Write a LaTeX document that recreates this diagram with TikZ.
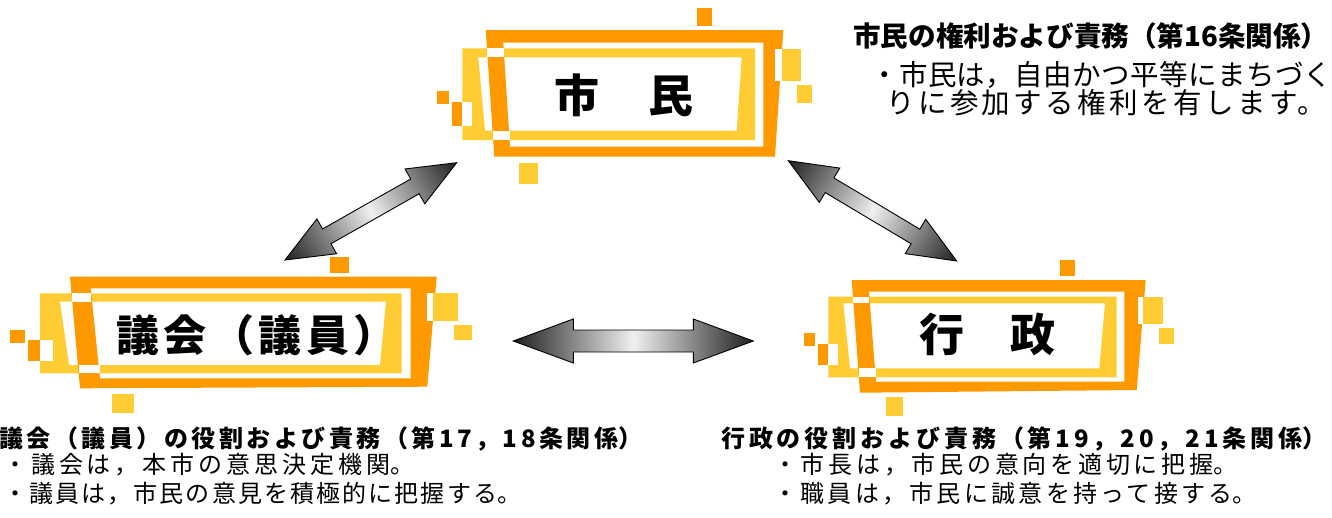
\documentclass[tikz,border=0pt]{standalone}
\usepackage{fontspec}
\newfontfamily\jp{Noto Sans CJK JP}
\usetikzlibrary{calc}

\definecolor{frameorange}{RGB}{255,153,0}
\definecolor{frameyellow}{RGB}{255,204,51}

\tikzset{
  fillorange/.style={fill=frameorange},
  fillyellow/.style={fill=frameyellow},
  fillwhite/.style={fill=white},
  ring/.style={even odd rule},
  boxlabel/.style={inner sep=0pt, font=\jp\bfseries\fontsize{45}{50}\selectfont},
  titletext/.style={anchor=base west, inner sep=0pt, font=\jp\bfseries\fontsize{24}{28}\selectfont},
  bodytext/.style={anchor=base west, inner sep=0pt, font=\jp\fontsize{24}{28}\selectfont},
  blockarrow/.style={draw=black, line width=0.9pt, line join=miter,
    left color=black!88, right color=black!88, middle color=white!94!black},
}

% letter-spaced line of text
\newcommand{\spaced}[2]{{\addfontfeature{LetterSpace=#1}#2}}

% double block arrow between two named coordinates
% #3 head length, #4 head half width, #5 shaft half width
\makeatletter
\newcommand{\blockarrow}[5]{%
  \pgfmathanglebetweenpoints{\pgfpointanchor{#1}{center}}{\pgfpointanchor{#2}{center}}%
  \let\ba@ang\pgfmathresult
  \pgfpointdiff{\pgfpointanchor{#1}{center}}{\pgfpointanchor{#2}{center}}%
  \edef\ba@dx{\the\pgf@x}\edef\ba@dy{\the\pgf@y}%
  \pgfmathsetmacro\ba@h{veclen(\ba@dx,\ba@dy)/2}%
  \begin{scope}[transform canvas={shift={($(#1)!0.5!(#2)$)},rotate=\ba@ang}]
    \path[blockarrow] (-\ba@h,0) -- (-\ba@h+#3,-#4) -- (-\ba@h+#3,-#5)
      -- (\ba@h-#3,-#5) -- (\ba@h-#3,-#4) -- (\ba@h,0) -- (\ba@h-#3,#4)
      -- (\ba@h-#3,#5) -- (-\ba@h+#3,#5) -- (-\ba@h+#3,#4) -- cycle;
  \end{scope}}
\makeatother

\begin{document}
\begin{tikzpicture}[x=1pt,y=-1pt]
\useasboundingbox (0,0) rectangle (1332,517);
\fill[white] (0,0) rectangle (1332,517);

% ---------- frame: citizens ----------
\fill[fillyellow,ring] (462.3,48.3) rectangle (755,140)
  (478.3,57.3) -- (741.7,57.3) -- (736.7,130.7) -- (485,130.7) -- cycle;
\fill[fillorange,ring] (485.7,30) -- (783.3,30) -- (775,156.7) -- (494.3,156.7) -- cycle
  (503.3,42.7) -- (763.3,42.7) -- (763.3,146.7) -- (510,146.7) -- cycle;
\fill[fillwhite] (487,48.3) rectangle (503.5,57.3);
\fill[fillwhite] (492.5,130.7) rectangle (510.2,140);
\fill[fillwhite] (775,49) rectangle (782,81);
\fill[fillyellow] (782,49) rectangle (801,81);
\fill[fillorange] (696.7,8.3) rectangle (711.7,25.7);
\fill[fillorange] (437.3,90.7) rectangle (449,104.3);
\fill[fillorange] (452.3,102.3) rectangle (462.3,125.7);
\fill[fillwhite] (462.3,102.3) rectangle (471.7,125.7);
\fill[fillyellow] (796.7,85) rectangle (811.7,102.7);
\fill[fillyellow] (519,162.7) rectangle (537.7,184.3);

% ---------- frame: assembly ----------
\fill[fillyellow,ring] (40,293.3) rectangle (401.7,373.3)
  (60,301.7) -- (386,301.7) -- (380,365) -- (69,365) -- cycle;
\fill[fillorange,ring] (70,276.7) -- (436.7,276.7) -- (427.3,386.7) -- (80,388.3) -- cycle
  (90.7,288.3) -- (410.7,288.3) -- (410.7,378.3) -- (100,378.3) -- cycle;
\fill[fillwhite] (71.5,293.3) rectangle (91,301.7);
\fill[fillwhite] (78.8,365) rectangle (100.3,373.3);
\fill[fillwhite] (426.7,293.3) rectangle (433.3,321);
\fill[fillyellow] (433.3,293.3) rectangle (458.3,321);
\fill[fillorange] (330,256.7) rectangle (349,272.7);
\fill[fillorange] (10,330) rectangle (25,342.7);
\fill[fillorange] (27.7,340) rectangle (40,361);
\fill[fillwhite] (40,340) rectangle (52.7,361);
\fill[fillyellow] (454,325) rectangle (471.7,340);
\fill[fillyellow] (112.3,394) rectangle (134,412.7);

% ---------- frame: administration ----------
\fill[fillyellow,ring] (828.3,296.7) rectangle (1116.7,377.3)
  (843.3,303.3) -- (1105,303.3) -- (1099.3,368.3) -- (850,368.3) -- cycle;
\fill[fillorange,ring] (851.7,280) -- (1145.7,280) -- (1136.7,390) -- (860,392.7) -- cycle
  (869,291.7) -- (1124.3,291.7) -- (1124.3,381.7) -- (876,381.7) -- cycle;
\fill[fillwhite] (853,296.7) rectangle (869,303.3);
\fill[fillwhite] (858.5,368.3) rectangle (876.3,377.3);
\fill[fillwhite] (1137.7,296.7) rectangle (1143.3,324);
\fill[fillyellow] (1143.3,296.7) rectangle (1162.7,324);
\fill[fillorange] (1060,260) rectangle (1075,275.7);
\fill[fillorange] (804,332.7) rectangle (815,345.7);
\fill[fillorange] (818.3,344.3) rectangle (828.3,365);
\fill[fillwhite] (828.3,344.3) rectangle (838.3,365);
\fill[fillyellow] (1159,328.3) rectangle (1174,344);
\fill[fillyellow] (885.7,396.7) rectangle (902.7,415.7);

% ---------- box labels ----------
\node[boxlabel] (shimin) at (623.7,95.8) {市\hspace{49pt}民};
\node[boxlabel, font=\jp\bfseries\fontsize{43}{48}\selectfont] (gikai) at (256.5,335)
  {\spaced{10.5}{議会（議員）}};
\node[boxlabel] (gyosei) at (987.5,334.2) {行\hspace{46.6pt}政};

% ---------- arrows ----------
\coordinate (gikaiend) at (285,260);
\coordinate (shiminendL) at (456.7,162.7);
\coordinate (shiminendR) at (788.3,160.7);
\coordinate (gyoseiendT) at (956.7,261);
\coordinate (gikaiendR) at (513.3,341);
\coordinate (gyoseiendL) at (753.3,341);
\blockarrow{gikaiend}{shiminendL}{48}{20}{8.5}
\blockarrow{shiminendR}{gyoseiendT}{48}{20}{8.5}
\blockarrow{gikaiendR}{gyoseiendL}{60}{22}{11}

% ---------- texts ----------
\node[titletext, font=\jp\bfseries\fontsize{27.6}{32}\selectfont] (t1) at (853,46.5)
  {市民の権利および責務（第16条関係）};
\node[bodytext, font=\jp\fontsize{28.5}{32}\selectfont] (t1a) at (870,85)
  {\spaced{1.5}{・市民は，自由かつ平等にまちづ}く};
\node[bodytext, font=\jp\fontsize{28.5}{32}\selectfont] (t1b) at (886,113)
  {\spaced{12}{りに参加する権利を有します}。};

\node[titletext] (t2) at (-1,447.5)
  {\spaced{14.6}{議会（議員）の役割および責務（第17，18条関係}）};
\node[bodytext] (t2a) at (3,473.5) {\spaced{16.4}{・議会は，本市の意思決定機関}。};
\node[bodytext] (t2b) at (3,502) {\spaced{8.8}{・議員は，市民の意見を積極的に把握する}。};

\node[titletext] (t3) at (721,447.5)
  {\spaced{16.2}{行政の役割および責務（第19，20，21条関係}）};
\node[bodytext] (t3a) at (773,473.5) {\spaced{15.6}{・市長は，市民の意向を適切に把握}。};
\node[bodytext] (t3b) at (773,502) {\spaced{13.7}{・職員は，市民に誠意を持って接する}。};
\end{tikzpicture}
\end{document}
